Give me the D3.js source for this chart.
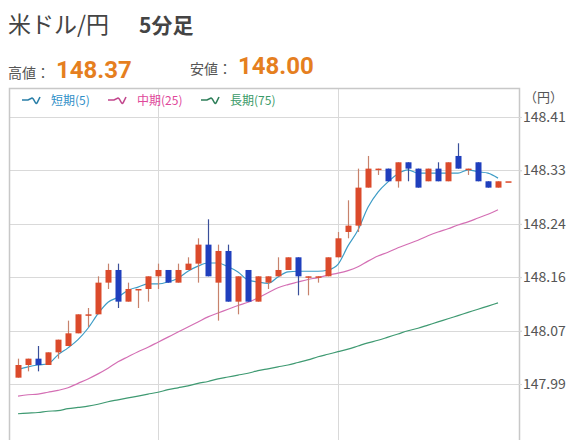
<!DOCTYPE html>
<html><head><meta charset="utf-8">
<script src="https://cdn.jsdelivr.net/npm/d3@7"></script>
<style>
html,body{margin:0;padding:0;background:#fff;}
svg{display:block;}
</style></head>
<body>
<svg id="c" width="576" height="440"></svg>
<script>
// ---- data ----
const title = "米ドル/円";
const subtitle = "5分足";
const highLabel = "高値：", highValue = "148.37";
const lowLabel = "安値：", lowValue = "148.00";
const unitLabel = "（円）";
const legendNames = ["短期(5)", "中期(25)", "長期(75)"];

const opens  = [148.00,148.02,148.03,148.02,148.04,148.05,148.07,148.10,148.10,148.15,
                148.17,148.12,148.14,148.14,148.16,148.17,148.15,148.17,148.18,148.21,
                148.15,148.20,148.12,148.17,148.12,148.15,148.16,148.17,148.19,148.16,
                148.16,148.16,148.19,148.23,148.24,148.30,148.33,148.33,148.31,148.34,
                148.33,148.31,148.33,148.31,148.35,148.33,148.34,148.31,148.30,148.31];
const highs  = [148.03,148.03,148.05,148.04,148.06,148.09,148.10,148.11,148.16,148.18,
                148.18,148.15,148.14,148.16,148.18,148.17,148.18,148.19,148.22,148.25,
                148.21,148.21,148.16,148.17,148.16,148.16,148.19,148.19,148.19,148.16,
                148.16,148.19,148.23,148.28,148.33,148.35,148.33,148.33,148.34,148.34,
                148.33,148.33,148.34,148.34,148.37,148.33,148.34,148.31,148.31,148.31];
const lows   = [148.00,148.01,148.01,148.02,148.03,148.05,148.07,148.08,148.10,148.14,
                148.11,148.12,148.11,148.12,148.14,148.15,148.15,148.17,148.15,148.16,
                148.09,148.12,148.10,148.12,148.12,148.14,148.16,148.17,148.13,148.13,
                148.15,148.16,148.19,148.22,148.23,148.30,148.32,148.31,148.30,148.31,
                148.30,148.31,148.31,148.31,148.33,148.32,148.31,148.30,148.30,148.31];
const closes = [148.02,148.03,148.02,148.04,148.06,148.07,148.10,148.10,148.15,148.17,
                148.12,148.14,148.14,148.16,148.17,148.15,148.17,148.18,148.21,148.16,
                148.20,148.12,148.16,148.12,148.16,148.16,148.17,148.19,148.16,148.16,
                148.16,148.19,148.22,148.24,148.30,148.33,148.33,148.31,148.34,148.33,
                148.30,148.33,148.31,148.34,148.33,148.33,148.31,148.30,148.31,148.31];

const maShort = [148.013,148.017,148.020,148.022,148.036,148.047,148.060,148.078,148.101,148.119,
                 148.127,148.138,148.143,148.148,148.148,148.151,148.157,148.168,148.176,148.181,
                 148.181,148.175,148.167,148.154,148.151,148.149,148.159,148.167,148.168,148.168,
                 148.168,148.170,148.179,148.208,148.233,148.269,148.293,148.309,148.322,148.328,
                 148.323,148.323,148.323,148.323,148.323,148.328,148.325,148.323,148.315];
const maMid   = [147.971,147.973,147.974,147.977,147.980,147.984,147.991,147.998,148.006,148.015,
                 148.025,148.033,148.041,148.048,148.056,148.064,148.072,148.080,148.088,148.096,
                 148.102,148.108,148.114,148.119,148.126,148.134,148.142,148.147,148.151,148.155,
                 148.158,148.162,148.165,148.169,148.175,148.184,148.192,148.198,148.205,148.211,
                 148.217,148.224,148.230,148.235,148.241,148.246,148.252,148.258,148.265];
const maLong  = [147.943,147.944,147.945,147.947,147.948,147.951,147.953,147.955,147.958,147.962,
                 147.965,147.968,147.971,147.974,147.977,147.981,147.984,147.987,147.991,147.994,
                 147.998,148.001,148.004,148.007,148.011,148.014,148.017,148.020,148.024,148.028,
                 148.033,148.037,148.041,148.045,148.050,148.055,148.059,148.064,148.069,148.074,
                 148.078,148.083,148.088,148.093,148.098,148.103,148.108,148.113,148.118];

const yTicks = [147.99, 148.0743, 148.1586, 148.2429, 148.3272, 148.4115];
const xGridIndex = [14, 32];

// ---- styles ----
const C = {up:"#db4a2b", down:"#1f3fbd", short:"#3d9cc6", mid:"#d46fb4", long:"#3f9a72",
           legShort:"#2f8fc8", legMid:"#e0479a", legLong:"#3a9a68",
           grid:"#d9d9d9", frame:"#c8c8c8", text:"#555", orange:"#e57f1f"};
const font = "'Noto Sans CJK JP', 'Noto Sans', sans-serif";

const svg = d3.select("#c");
const plot = {l:9, r:519, t:88, b:440};

const x = d3.scaleLinear().domain([0, 49]).range([18, 508]);
const y = d3.scaleLinear().domain([147.99, 148.4115]).range([384, 117]);

// header
const h = svg.append("text").attr("x", 8).attr("y", 33).attr("font-family", font).attr("fill", "#444");
h.append("tspan").attr("font-size", 23).text(title);
h.append("tspan").attr("x", 139).attr("font-size", 21).attr("font-weight", "bold").text(subtitle);

const r2 = svg.append("g").attr("font-family", font);
r2.append("text").attr("x", 8).attr("y", 78).attr("font-size", 14).attr("fill", "#555").text(highLabel);
r2.append("text").attr("x", 56).attr("y", 78).attr("font-size", 24).attr("font-weight", "bold")
  .attr("fill", C.orange).attr("font-family", "Roboto, 'Noto Sans', sans-serif").text(highValue);
r2.append("text").attr("x", 190).attr("y", 74).attr("font-size", 14).attr("fill", "#555").text(lowLabel);
r2.append("text").attr("x", 238).attr("y", 74).attr("font-size", 24).attr("font-weight", "bold")
  .attr("fill", C.orange).attr("font-family", "Roboto, 'Noto Sans', sans-serif").text(lowValue);

// grid
const g = svg.append("g");
g.selectAll("line.hg").data(yTicks).join("line")
  .attr("x1", plot.l).attr("x2", 522)
  .attr("y1", d => Math.round(y(d)) + 0.5).attr("y2", d => Math.round(y(d)) + 0.5)
  .attr("stroke", C.grid).attr("stroke-width", 1);
g.selectAll("line.vg").data(xGridIndex).join("line")
  .attr("x1", d => Math.round(x(d)) + 0.5).attr("x2", d => Math.round(x(d)) + 0.5)
  .attr("y1", plot.t).attr("y2", plot.b)
  .attr("stroke", C.grid).attr("stroke-width", 1);
// frame
g.append("path")
  .attr("d", `M${plot.l+0.5},${plot.b} V${plot.t+0.5} H${plot.r+0.5} V${plot.b}`)
  .attr("fill", "none").attr("stroke", C.frame).attr("stroke-width", 1.5);

// y axis labels
const ax = svg.append("g").attr("transform", `translate(${plot.r},0)`);
const yAxis = d3.axisRight(y).tickValues(yTicks).tickFormat(d3.format(".2f")).tickSize(3).tickPadding(1);
ax.call(yAxis);
ax.select(".domain").remove();
ax.selectAll(".tick line").attr("stroke", C.grid);
ax.selectAll(".tick text").attr("font-family", font).attr("font-size", 14).attr("fill", C.text);
svg.append("text").attr("x", 524).attr("y", 102).attr("font-family", font)
  .attr("font-size", 13).attr("fill", C.text).text(unitLabel);

// legend
const legColors = [C.legShort, C.legMid, C.legLong];
const iconColors = ["#2a7fa8", "#c2478d", "#2f7f5a"];
const legX = [22, 108, 201];
const lg = svg.append("g");
legendNames.forEach((n, i) => {
  const gx = lg.append("g").attr("transform", `translate(${legX[i]},100)`);
  gx.append("path").attr("d", "M0,0 L6,0 Q8,-1 10,-2 Q11,-2 13,2 Q14,4 15,3 L18,-3")
    .attr("fill", "none").attr("stroke", iconColors[i]).attr("stroke-width", 1.6);
  gx.append("text").attr("x", 29).attr("y", 4.5).attr("font-family", font).attr("font-size", 12)
    .attr("fill", legColors[i]).text(n);
});

// moving averages
const line = d3.line().x((d, i) => x(i)).y(d => y(d)).curve(d3.curveMonotoneX);
[[maLong, C.long], [maMid, C.mid], [maShort, C.short]].forEach(([arr, col]) => {
  svg.append("path").attr("d", line(arr)).attr("fill", "none").attr("stroke", col).attr("stroke-width", 1.2);
});

// candles
const candles = opens.map((o, i) => ({i, o, h: highs[i], l: lows[i], c: closes[i]}));
const cg = svg.append("g");
const bw = 6;
cg.selectAll("line.w").data(candles).join("line")
  .attr("x1", d => Math.round(x(d.i)) + 0.5).attr("x2", d => Math.round(x(d.i)) + 0.5)
  .attr("y1", d => y(d.h)).attr("y2", d => y(d.l))
  .attr("stroke", d => d.c < d.o ? "#3a4f9a" : "#c7826c").attr("stroke-width", 1.2);
cg.selectAll("rect").data(candles).join("rect")
  .attr("x", d => Math.round(x(d.i)) - bw / 2 + 0.5).attr("width", bw)
  .attr("y", d => y(Math.max(d.o, d.c)))
  .attr("height", d => Math.max(1.5, Math.abs(y(d.o) - y(d.c))))
  .attr("fill", d => d.c < d.o ? C.down : C.up);
</script>
</body></html>
